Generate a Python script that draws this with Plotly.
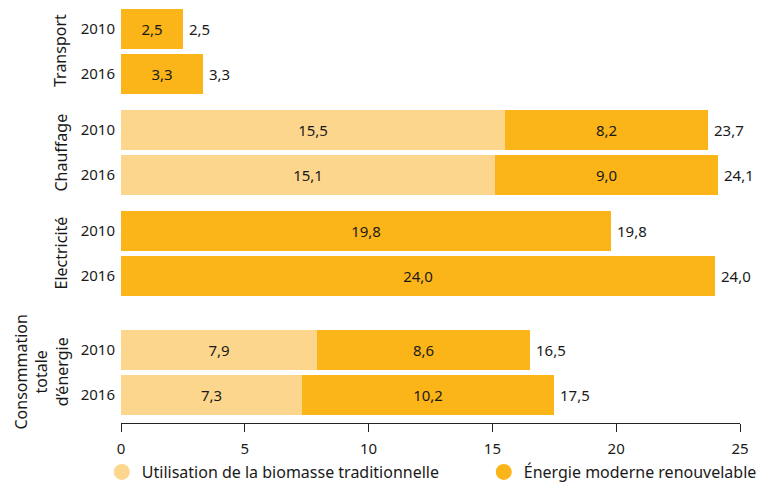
import plotly.graph_objects as go

# Energy end-use groups and years
groups = ["Transport", "Chauffage", "Electricité", "Consommation<br>totale<br>d’énergie"]
years = ["2010", "2016"]

# Shares per group, one value per year
traditional = [[0.0, 0.0], [15.5, 15.1], [0.0, 0.0], [7.9, 7.3]]
modern = [[2.5, 3.3], [8.2, 9.0], [19.8, 24.0], [8.6, 10.2]]

x_ticks = [0, 5, 10, 15, 20, 25]

series_names = ["Utilisation de la biomasse traditionnelle", "Énergie moderne renouvelable"]
colors = ["#FCD68D", "#FBB518"]

# Layout: vertical slot of each group (pixel-like units along the y axis)
group_centers = [51, 152.5, 253.5, 372.5]
year_offsets = [-22.5, 22.5]
bar_height = 40
group_label_shift = [-61, -61, -61, -80]
legend_x = [-0.031, 0.586]

FONT = "Noto Sans"
TXT = "#1a1a1a"


def fmt(v):
    return f"{v:.1f}".replace(".", ",")


ypos, trad_vals, mod_vals, totals = [], [], [], []
for gi, gc in enumerate(group_centers):
    for yi, off in enumerate(year_offsets):
        ypos.append(gc + off)
        trad_vals.append(traditional[gi][yi])
        mod_vals.append(modern[gi][yi])
        totals.append(traditional[gi][yi] + modern[gi][yi])

fig = go.Figure()
for i, (vals, name, col) in enumerate([(trad_vals, series_names[0], colors[0]),
                                       (mod_vals, series_names[1], colors[1])]):
    fig.add_trace(go.Bar(
        x=vals, y=ypos, orientation="h", width=bar_height,
        marker=dict(color=col, line=dict(width=0)),
        text=[fmt(v) if v > 0 else "" for v in vals],
        textposition="inside", insidetextanchor="middle", textangle=0,
        insidetextfont=dict(family=FONT, size=15, color=TXT),
        showlegend=False, hoverinfo="skip", name=name,
    ))
    # Circular legend entry, one legend per series
    fig.add_trace(go.Scatter(
        x=[None], y=[None], mode="markers", name=name,
        legend="legend" if i == 0 else "legend2",
        marker=dict(symbol="circle", size=17, color=col),
    ))

annotations = []
for t, y in zip(totals, ypos):
    annotations.append(dict(
        x=t, y=y, xref="x", yref="y", text=fmt(t), showarrow=False,
        xanchor="left", xshift=4, font=dict(family=FONT, size=15, color=TXT),
    ))
for g, gc, sh in zip(groups, group_centers, group_label_shift):
    annotations.append(dict(
        x=0, y=gc, xref="paper", yref="y", text=g, showarrow=False,
        textangle=-90, xanchor="center", yanchor="middle", xshift=sh,
        font=dict(family=FONT, size=16, color=TXT),
    ))

legend_common = dict(
    orientation="h", xanchor="left", y=-0.116, yanchor="middle",
    font=dict(family=FONT, size=16, color=TXT),
    itemclick=False, itemdoubleclick=False, bgcolor="rgba(0,0,0,0)",
)

fig.update_layout(
    width=770, height=483,
    margin=dict(l=121, r=30, t=0, b=60, autoexpand=False),
    plot_bgcolor="white", paper_bgcolor="white",
    barmode="stack", bargap=0,
    font=dict(family=FONT, size=15, color=TXT),
    annotations=annotations,
    legend=dict(x=legend_x[0], **legend_common),
    legend2=dict(x=legend_x[1], **legend_common),
    xaxis=dict(
        range=[0, 25], tickvals=x_ticks, ticktext=[str(v) for v in x_ticks],
        showline=True, linecolor="#222", linewidth=1,
        ticks="outside", ticklen=8, tickcolor="#222",
        showgrid=False, zeroline=False, ticklabelstandoff=4,
        tickfont=dict(family=FONT, size=15, color=TXT),
    ),
    yaxis=dict(
        range=[423, 0], tickvals=ypos, ticktext=years * len(groups),
        showgrid=False, zeroline=False, showline=False, ticks="",
        ticklabelstandoff=5,
        tickfont=dict(family=FONT, size=15, color=TXT),
    ),
)

fig.write_html("out.html")
